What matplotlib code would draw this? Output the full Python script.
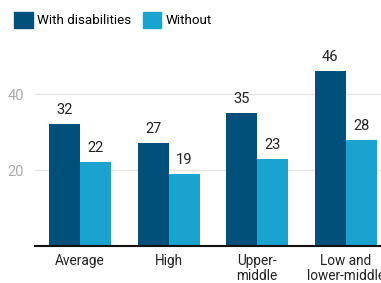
import numpy as np
import matplotlib.pyplot as plt
from matplotlib.patches import Patch

plt.rcParams['font.family'] = ['Roboto', 'DejaVu Sans']

categories = ["Average", "High", "Upper-\nmiddle", "Low and\nlower-middle"]
with_dis = [32, 27, 35, 46]
without = [22, 19, 23, 28]
series_names = ["With disabilities", "Without"]

dark = "#01507b"
light = "#1ba3d0"

fig = plt.figure(figsize=(3.81, 2.83), dpi=100)
ax = fig.add_axes([0.092, 0.1307, 0.908, 0.6713])

x = np.arange(len(categories))
w = 0.35
b1 = ax.bar(x - w / 2, with_dis, w, color=dark, zorder=2)
b2 = ax.bar(x + w / 2, without, w, color=light, zorder=2)

for bars, vals in ((b1, with_dis), (b2, without)):
    for r, v in zip(bars, vals):
        ax.annotate(str(v), (r.get_x() + r.get_width() / 2, v),
                    xytext=(0, 5), textcoords="offset points",
                    ha="center", va="bottom", fontsize=10.5, color="#222222",
                    annotation_clip=False)

ax.set_xlim(-0.51, 3.40)
ax.set_ylim(0, 50)
ax.set_yticks([20, 40])
ax.set_xticks(x)
ax.set_xticklabels(categories, fontsize=9.8, color="#222222", linespacing=1.05)
ax.tick_params(axis="y", length=0, labelsize=10.5, labelcolor="#aaaaaa", pad=8)
ax.tick_params(axis="x", length=0, pad=6)
ax.grid(axis="y", color="#e6e6e6", linewidth=1, zorder=0)
for s in ("top", "right", "left"):
    ax.spines[s].set_visible(False)
ax.spines["bottom"].set_linewidth(1.5)
ax.spines["bottom"].set_color("#111111")
ax.spines["bottom"].set_zorder(3)

handles = [Patch(color=dark), Patch(color=light)]
fig.legend(handles, series_names, loc="upper left", bbox_to_anchor=(0.012, 0.99),
           ncol=2, frameon=False, fontsize=9.6, handlelength=1.4, handleheight=1.4,
           handletextpad=0.3, columnspacing=0.9, borderaxespad=0.3)

fig.savefig("out.png", dpi=100)
